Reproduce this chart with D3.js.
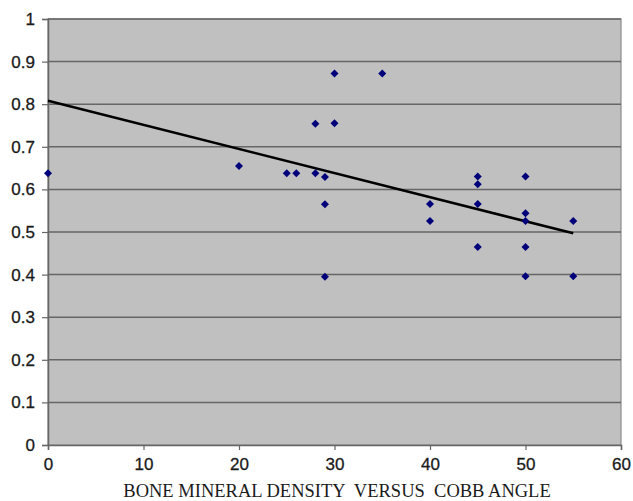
<!DOCTYPE html>
<html><head><meta charset="utf-8">
<script src="https://d3js.org/d3.v7.min.js"></script>
<style>body{margin:0;background:#fff}svg{display:block}</style>
</head><body>
<svg id="c" width="633" height="501"></svg>
<script>
const cobbAngle = [0,20,25,26,28,28,29,29,29,30,30,35,40,40,45,45,45,45,50,50,50,50,50,55,55];
const bmd = [0.638,0.655,0.638,0.638,0.638,0.754,0.629,0.565,0.395,0.872,0.755,0.872,0.566,0.526,0.630,0.612,0.566,0.465,0.630,0.544,0.526,0.465,0.396,0.526,0.396];
const trendX = [0,55];
const trendY = [0.808,0.497];
const xTicks = [0,10,20,30,40,50,60];
const yTicks = [0,0.1,0.2,0.3,0.4,0.5,0.6,0.7,0.8,0.9,1];
const xTitle = "BONE MINERAL DENSITY  VERSUS  COBB ANGLE";

const svg = d3.select("#c");
const L=48, R=621, T=19, B=445;
const x = d3.scaleLinear().domain([0,60]).range([L,R]);
const y = d3.scaleLinear().domain([0,1]).range([B,T]);

svg.append("rect").attr("x",L).attr("y",T).attr("width",R-L).attr("height",B-T)
  .attr("fill","#c0c0c0").attr("stroke","#8a8a8a").attr("stroke-width",1.2);

svg.append("g").selectAll("line").data(yTicks.filter(d=>d>0)).join("line")
  .attr("x1",L).attr("x2",R).attr("y1",d=>y(d)).attr("y2",d=>y(d))
  .attr("stroke","#666").attr("stroke-width",1.5);

const yAxis = svg.append("g").attr("transform",`translate(${L},0)`)
  .call(d3.axisLeft(y).tickValues(yTicks).tickFormat(d=>String(+d.toFixed(1))).tickSize(6).tickPadding(7));
const xAxis = svg.append("g").attr("transform",`translate(0,${B})`)
  .call(d3.axisBottom(x).tickValues(xTicks).tickFormat(d3.format("d")).tickSize(5).tickPadding(8));
[yAxis,xAxis].forEach(a=>{
  a.select(".domain").attr("stroke","#666").attr("stroke-width",1.5);
  a.selectAll(".tick line").attr("stroke","#666").attr("stroke-width",1.2);
  a.selectAll("text").attr("font-family","Liberation Sans, Arial, sans-serif").attr("font-size",17)
    .attr("fill","#1a1a1a").attr("stroke","#1a1a1a").attr("stroke-width",0.3);
});

svg.append("path")
  .attr("d", d3.line().x(d=>x(d[0])).y(d=>y(d[1]))(trendX.map((v,i)=>[v,trendY[i]])))
  .attr("stroke","#000").attr("stroke-width",2.6).attr("fill","none");

svg.append("g").selectAll("path").data(cobbAngle.map((v,i)=>[v,bmd[i]])).join("path")
  .attr("d", d3.symbol(d3.symbolSquare, 32)())
  .attr("transform", d=>`translate(${x(d[0])},${y(d[1])}) rotate(45)`)
  .attr("fill","#00007a");

svg.append("text").attr("x",337).attr("y",497).attr("text-anchor","middle")
  .attr("font-family","Liberation Serif, Times New Roman, serif").attr("font-size",18.5)
  .attr("fill","#1a1a1a").style("white-space","pre").text(xTitle);
</script>
</body></html>
